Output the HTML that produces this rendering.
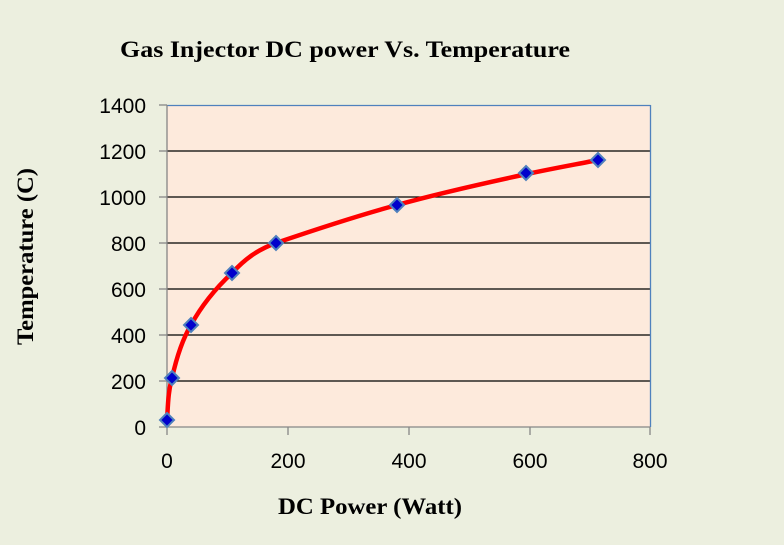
<!DOCTYPE html>
<html><head><meta charset="utf-8"><style>
html,body{margin:0;padding:0;background:#ECEFDF;}
svg{display:block;}
</style></head><body>
<svg width="784" height="545" xmlns="http://www.w3.org/2000/svg">
<rect width="784" height="545" fill="#ECEFDF"/>
<text x="120" y="57" textLength="450" lengthAdjust="spacingAndGlyphs" font-family="Liberation Serif, serif" font-weight="bold" font-size="23" fill="#000">Gas Injector  DC power Vs. Temperature</text>
<rect x="167" y="105" width="483" height="322" fill="#FDEADC"/>
<g stroke="#000" stroke-width="1.3">
<line x1="167" y1="151" x2="650" y2="151"/>
<line x1="167" y1="197" x2="650" y2="197"/>
<line x1="167" y1="243" x2="650" y2="243"/>
<line x1="167" y1="289" x2="650" y2="289"/>
<line x1="167" y1="335" x2="650" y2="335"/>
<line x1="167" y1="381" x2="650" y2="381"/>
</g>
<line x1="167" y1="105.5" x2="650.5" y2="105.5" stroke="#4F81BD" stroke-width="1.3"/>
<line x1="650.5" y1="105" x2="650.5" y2="427" stroke="#4F81BD" stroke-width="1.3"/>
<g stroke="#868686" stroke-width="1.3">
<line x1="167" y1="105" x2="167" y2="427"/>
<line x1="159" y1="427" x2="650" y2="427"/>
<line x1="159" y1="105" x2="167" y2="105"/>
<line x1="159" y1="151" x2="167" y2="151"/>
<line x1="159" y1="197" x2="167" y2="197"/>
<line x1="159" y1="243" x2="167" y2="243"/>
<line x1="159" y1="289" x2="167" y2="289"/>
<line x1="159" y1="335" x2="167" y2="335"/>
<line x1="159" y1="381" x2="167" y2="381"/>
<line x1="167" y1="427" x2="167" y2="435"/>
<line x1="288" y1="427" x2="288" y2="435"/>
<line x1="409" y1="427" x2="409" y2="435"/>
<line x1="530" y1="427" x2="530" y2="435"/>
<line x1="650" y1="427" x2="650" y2="435"/>
</g>
<g font-family="Liberation Sans, sans-serif" font-size="21" fill="#000" text-anchor="end">
<text x="146" y="113">1400</text>
<text x="146" y="159">1200</text>
<text x="146" y="205">1000</text>
<text x="146" y="251">800</text>
<text x="146" y="297">600</text>
<text x="146" y="343">400</text>
<text x="146" y="389">200</text>
<text x="146" y="435">0</text>
</g>
<g font-family="Liberation Sans, sans-serif" font-size="21" fill="#000" text-anchor="middle">
<text x="167" y="468">0</text>
<text x="288" y="468">200</text>
<text x="409" y="468">400</text>
<text x="530" y="468">600</text>
<text x="650" y="468">800</text>
</g>
<text x="278" y="514" textLength="184" lengthAdjust="spacingAndGlyphs" font-family="Liberation Serif, serif" font-weight="bold" font-size="23">DC Power (Watt)</text>
<text transform="translate(33,345) rotate(-90)" textLength="177" lengthAdjust="spacingAndGlyphs" font-family="Liberation Serif, serif" font-weight="bold" font-size="23">Temperature (C)</text>
<path d="M167,421 C168,405 168,392 172,378 C176,360 182,340 191,325 C203,303 217,287 232,273 C245,259 257,250 276,243 C320,228 360,215 397,205 C440,193 485,183 527,174 C555,168 578,164 598,160" fill="none" stroke="#FF0000" stroke-width="4.5" stroke-linecap="round"/>
<g fill="#0000CC" stroke="#4F81BD" stroke-width="2">
<path d="M167,413 l7,7 l-7,7 l-7,-7z"/>
<path d="M172,371 l7,7 l-7,7 l-7,-7z"/>
<path d="M191,318 l7,7 l-7,7 l-7,-7z"/>
<path d="M232,266 l7,7 l-7,7 l-7,-7z"/>
<path d="M276,236 l7,7 l-7,7 l-7,-7z"/>
<path d="M397,198 l7,7 l-7,7 l-7,-7z"/>
<path d="M526,166 l7,7 l-7,7 l-7,-7z"/>
<path d="M598,153 l7,7 l-7,7 l-7,-7z"/>
</g>
</svg>
</body></html>
